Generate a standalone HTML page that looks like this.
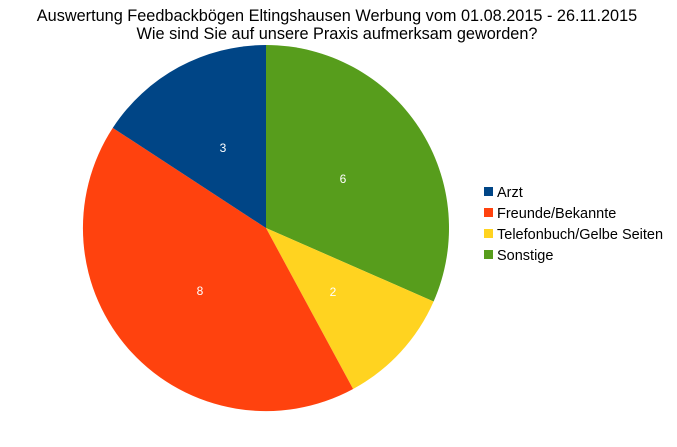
<!DOCTYPE html>
<html><head><meta charset="utf-8"><style>
body{margin:0;background:#fff;}
svg{display:block;font-family:"Liberation Sans",sans-serif;}
</style></head><body>
<svg width="677" height="447" viewBox="0 0 677 447">
<rect width="677" height="447" fill="#fff"/>
<text x="337" y="21" font-size="16.3" text-anchor="middle" fill="#000">Auswertung Feedbackbögen Eltingshausen Werbung vom 01.08.2015 - 26.11.2015</text>
<text x="337" y="39" font-size="16.3" text-anchor="middle" fill="#000">Wie sind Sie auf unsere Praxis aufmerksam geworden?</text>
<path d="M266,228 L266,45 A183,183 0 0 1 433.6,301.5 Z" fill="#579d1c"/>
<path d="M266,228 L433.6,301.5 A183,183 0 0 1 353.1,389 Z" fill="#ffd320"/>
<path d="M266,228 L353.1,389 A183,183 0 0 1 112.8,127.9 Z" fill="#ff420e"/>
<path d="M266,228 L112.8,127.9 A183,183 0 0 1 266,45 Z" fill="#004586"/>
<g font-size="12" fill="#fff" text-anchor="middle">
<text x="223" y="152">3</text>
<text x="343" y="183">6</text>
<text x="333" y="296">2</text>
<text x="200" y="295">8</text>
</g>
<g font-size="14.5" fill="#000">
<rect x="484" y="187" width="9" height="9" fill="#004586"/><text x="497" y="197">Arzt</text>
<rect x="484" y="208" width="9" height="9" fill="#ff420e"/><text x="497" y="218">Freunde/Bekannte</text>
<rect x="484" y="229" width="9" height="9" fill="#ffd320"/><text x="497" y="239">Telefonbuch/Gelbe Seiten</text>
<rect x="484" y="250" width="9" height="9" fill="#579d1c"/><text x="497" y="260">Sonstige</text>
</g>
</svg>
</body></html>
